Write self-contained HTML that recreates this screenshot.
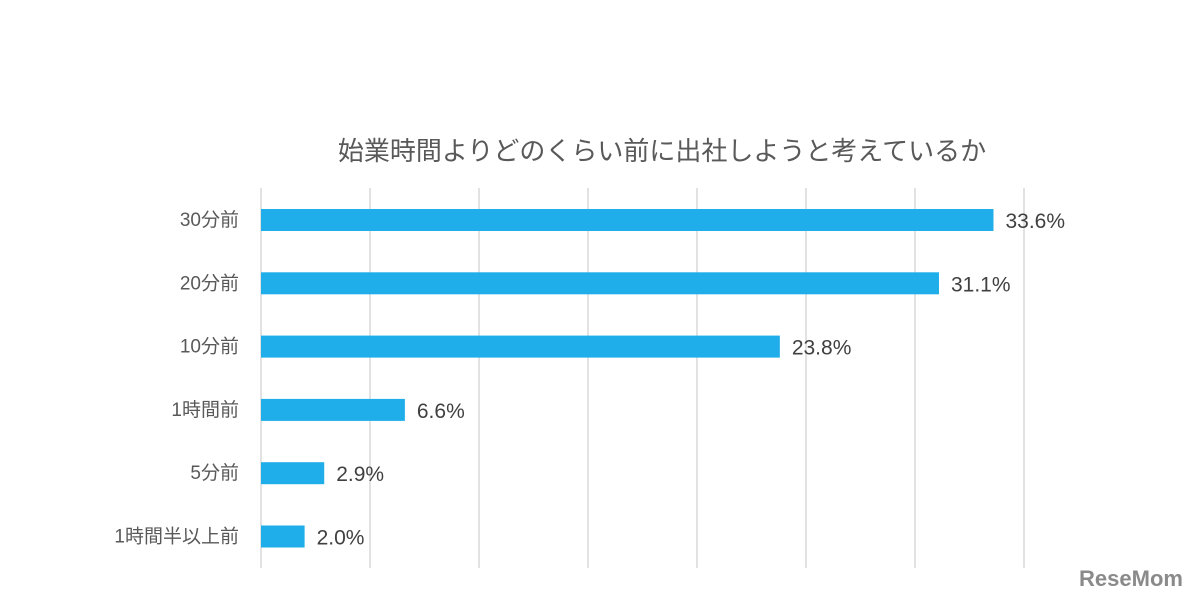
<!DOCTYPE html>
<html><head><meta charset="utf-8">
<style>
body{margin:0;background:#fff;width:1194px;height:600px;overflow:hidden;font-family:"Liberation Sans","Noto Sans CJK JP",sans-serif;}
</style></head>
<body>
<svg width="1194" height="600" xmlns="http://www.w3.org/2000/svg">
<text x="662" y="160" text-anchor="middle" font-size="26" fill="#595959" font-family="Liberation Sans, Noto Sans CJK JP, sans-serif">始業時間よりどのくらい前に出社しようと考えているか</text>
<g id="grid"></g>
<g id="bars"></g>
<text x="1131" y="586" text-anchor="middle" font-size="22" font-weight="bold" fill="#8a8a8a" font-family="Liberation Sans, sans-serif">ReseMom</text>
</svg>
<script>
const categories=["30分前","20分前","10分前","1時間前","5分前","1時間半以上前"];
const values=[33.6,31.1,23.8,6.6,2.9,2.0];
const labels=["33.6%","31.1%","23.8%","6.6%","2.9%","2.0%"];
const ticks=[0,5,10,15,20,25,30,35];
const NS="http://www.w3.org/2000/svg";
const x0=261,pxPer=21.8,yTop=188,yBot=568,band=63.3,firstC=220,bh=22;
const xs=v=>x0+v*pxPer;
const grid=document.getElementById('grid'),bars=document.getElementById('bars');
ticks.forEach(t=>{
 const l=document.createElementNS(NS,'line');
 l.setAttribute('x1',xs(t));l.setAttribute('x2',xs(t));l.setAttribute('y1',yTop);l.setAttribute('y2',yBot);
 l.setAttribute('stroke','#d9d9d9');l.setAttribute('stroke-width','1.5');
 
 
 grid.appendChild(l);
});
categories.forEach((c,i)=>{
 const cy=firstC+i*band;
 const r=document.createElementNS(NS,'rect');
 r.setAttribute('x',x0);r.setAttribute('y',cy-bh/2);r.setAttribute('width',xs(values[i])-x0);r.setAttribute('height',bh);
 r.setAttribute('fill','#1faeea');
 
 
 bars.appendChild(r);
 const t=document.createElementNS(NS,'text');
 t.setAttribute('x',239);t.setAttribute('y',cy+6);t.setAttribute('text-anchor','end');
 t.setAttribute('font-size','19');t.setAttribute('fill','#595959');t.textContent=c;
 
 
 bars.appendChild(t);
 const v=document.createElementNS(NS,'text');
 v.setAttribute('x',xs(values[i])+12);v.setAttribute('y',cy+8);
 v.setAttribute('font-size','21');v.setAttribute('fill','#404040');v.textContent=labels[i];
 
 
 bars.appendChild(v);
});
</script>
</body></html>
